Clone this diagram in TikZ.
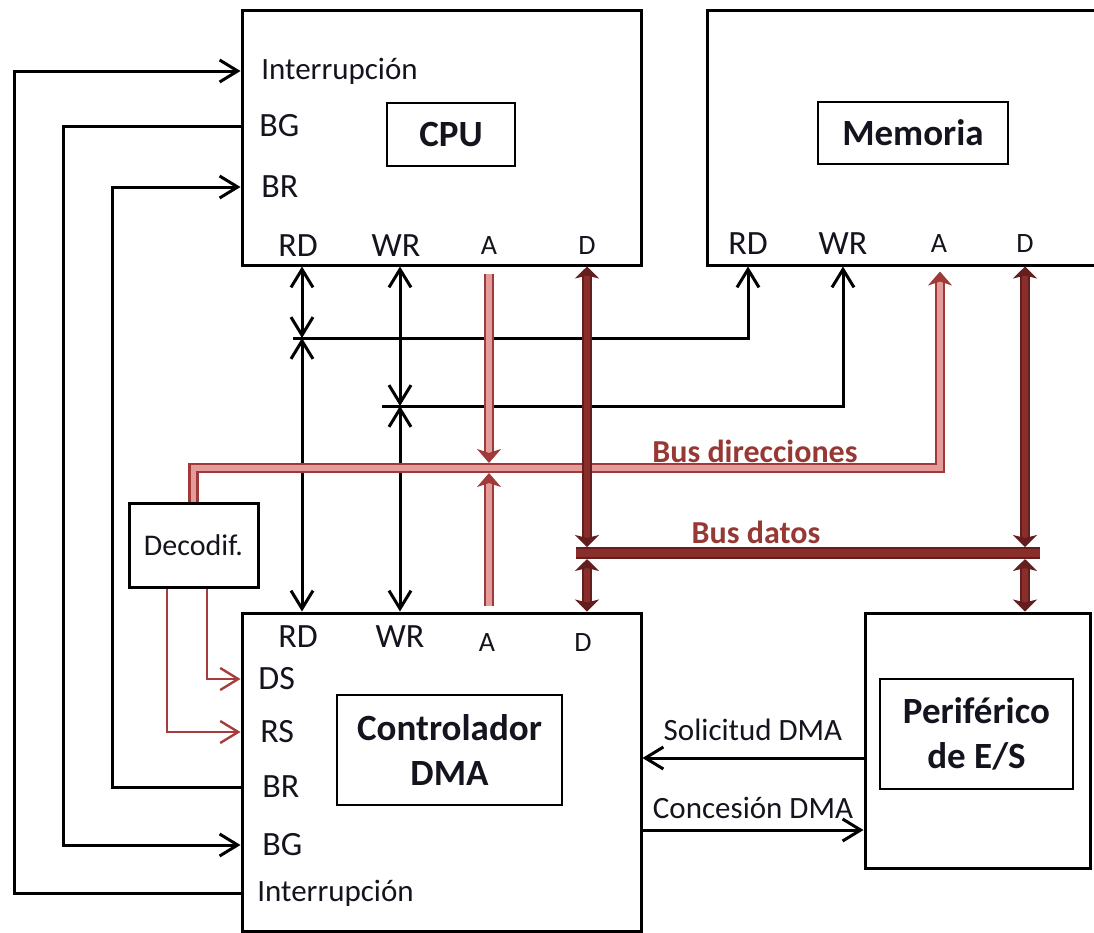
\documentclass[tikz,border=0pt]{standalone}
\usepackage{fontspec}
\setmainfont{Carlito}
\usetikzlibrary{arrows.meta,positioning,calc}
\definecolor{adrline}{RGB}{160,58,56}
\definecolor{adrfill}{RGB}{228,156,154}
\definecolor{datline}{RGB}{100,30,30}
\definecolor{datfill}{RGB}{138,46,44}
\definecolor{buslabel}{RGB}{150,56,52}
\definecolor{decline}{RGB}{165,62,58}
\definecolor{ink}{RGB}{20,20,30}

\begin{document}
\begin{tikzpicture}[x=0.5pt,y=-0.5pt,
    every node/.style={font=\fontsize{17}{20}\selectfont,inner sep=0pt,text=ink},
    unit/.style={draw,line width=1.5pt,minimum width=199.5pt,minimum height=127.5pt},
    namebox/.style={draw,line width=0.8pt,font=\fontsize{18.5}{22.5}\selectfont\bfseries,align=center},
    longsig/.style={font=\fontsize{15.5}{18}\selectfont},
    buspin/.style={font=\fontsize{14}{16}\selectfont},
    buslbl/.style={font=\fontsize{16}{19}\selectfont\bfseries,text=buslabel},
    wire/.style={line width=1.5pt},
    arr/.style={-{Straight Barb[length=9pt,width=11pt]}},
    bidir/.style={{Straight Barb[length=9pt,width=11pt]}-{Straight Barb[length=9pt,width=11pt]}},
    abus/.style={draw=adrline,double=adrfill,line width=1.4pt,double distance=2.6pt},
    atip/.style={-{Stealth[length=7pt,width=12pt,inset=2pt]}},
    dbus/.style={draw=datline,double=datfill,line width=1pt,double distance=3pt},
    dtip/.style={{Stealth[length=6pt,width=12pt,inset=1.5pt]}-{Stealth[length=6pt,width=12pt,inset=1.5pt]}}]
  \useasboundingbox (0,0) rectangle (1094,933);
  \clip (0,0) rectangle (1094,933);

  \node[unit] (cpu) at (441.5,137.5) {};
  \node[namebox,minimum width=64pt,minimum height=31.5pt] (cpuname) at (451,134.5) {CPU};
  \node[unit,minimum width=201.5pt] (mem) at (908.5,137.5) {};
  \node[namebox,minimum width=95pt,minimum height=31pt] (memname) at (913,133) {Memoria};
  \node[unit,minimum height=159pt] (dma) at (441.5,772) {};
  \node[namebox,minimum width=112.5pt,minimum height=55pt] (dmaname) at (449.5,750) {Controlador\\DMA};
  \node[unit,minimum width=112.5pt] (per) at (977.5,740.5) {};
  \node[namebox,minimum width=96.5pt,minimum height=55pt] (pername) at (976.5,734) {Periférico\\de E/S};
  \node[draw,line width=1.5pt,minimum width=64.5pt,minimum height=42pt,
        font=\fontsize{15}{18}\selectfont] (dec) at (193.5,545) {Decodif.};

  \node[longsig,anchor=west] (cInt) at (261,71) {Interrupción};
  \node[anchor=west] (cBG) at (259,126) {BG};
  \node[anchor=west] (cBR) at (261,187) {BR};
  \node (cRD) at (298,246) {RD};
  \node (cWR) at (396,246) {WR};
  \node[buspin] (cA) at (489,246) {A};
  \node[buspin] (cD) at (587,246) {D};

  \node (mRD) at (748,244) {RD};
  \node (mWR) at (843,244) {WR};
  \node[buspin] (mA) at (939,244) {A};
  \node[buspin] (mD) at (1025,244) {D};

  \node (dRD) at (298,637) {RD};
  \node (dWR) at (400,637) {WR};
  \node[buspin] (dA) at (487,643) {A};
  \node[buspin] (dD) at (583,643) {D};
  \node[anchor=west] (dDS) at (258,679) {DS};
  \node[anchor=west] (dRS) at (260,732) {RS};
  \node[anchor=west] (dBR) at (262,787) {BR};
  \node[anchor=west] (dBG) at (262,845) {BG};
  \node[longsig,anchor=west] (dInt) at (257,893) {Interrupción};

  \coordinate (jRD) at (302,338);
  \coordinate (jWR) at (400,406);
  \coordinate (aleft) at (193.5,468);
  \coordinate (aright) at (940,468);
  \coordinate (dleft) at (576,553);
  \coordinate (dright) at (1040,553);
  \coordinate (laneI) at (14,0);
  \coordinate (laneG) at (63,0);
  \coordinate (laneR) at (112,0);

  \draw[wire,bidir] (cpu.south -| jRD) -- (jRD);
  \draw[wire,bidir] (jRD) -- (dma.north -| jRD);
  \draw[wire,arr] ([xshift=-4.5pt]jRD) -| (mem.south -| mRD);
  \draw[wire,bidir] (cpu.south -| jWR) -- (jWR);
  \draw[wire,bidir] (jWR) -- (dma.north -| jWR);
  \draw[wire,arr] ([xshift=-9pt]jWR) -| (mem.south -| mWR);

  \draw[abus,atip] (dec.north) -- (aleft) -- (aright) -- ([yshift=-2.5pt]mem.south -| aright);
  \draw[abus,atip] ([yshift=-3.5pt]cpu.south -| cA) -- ([yshift=2.5pt]cA |- aleft);
  \draw[abus,atip] ([yshift=3pt]dma.north -| cA) -- ([yshift=-2.5pt]cA |- aleft);
  \node[buslbl] (lbdir) at (755,451) {Bus direcciones};

  \draw[dbus,double distance=4pt] (dleft) -- (dright);
  \draw[dbus,dtip] (cpu.south -| cD) -- ([yshift=3pt]cD |- dleft);
  \draw[dbus,dtip] ([yshift=-3pt]cD |- dleft) -- (dma.north -| cD);
  \draw[dbus,dtip] (mem.south -| mD) -- ([yshift=3pt]mD |- dleft);
  \draw[dbus,dtip] ([yshift=-3pt]mD |- dleft) -- (per.north -| mD);
  \node[buslbl] (lbdat) at (756,532) {Bus datos};

  \draw[wire,arr,draw=decline,line width=1.2pt] ([xshift=6.75pt]dec.south) |- (dma.west |- dDS);
  \draw[wire,arr,draw=decline,line width=1.2pt] ([xshift=-13.25pt]dec.south) |- (dma.west |- dRS);

  \draw[wire,arr] (dma.west |- dInt) -| (laneI |- cInt) -- (cpu.west |- cInt);
  \draw[wire,arr] (cpu.west |- cBG) -| (laneG |- dBG) -- (dma.west |- dBG);
  \draw[wire,arr] (dma.west |- dBR) -| (laneR |- cBR) -- (cpu.west |- cBR);

  \draw[wire,arr] ([yshift=-8.75pt]per.west) -- ([yshift=-8.75pt]per.west -| dma.east)
    node[midway,above=8pt,longsig] {Solicitud DMA};
  \draw[wire,arr] ([yshift=-44.75pt]per.west -| dma.east) -- ([yshift=-44.75pt]per.west)
    node[midway,above=5pt,longsig] {Concesión DMA};
\end{tikzpicture}
\end{document}
